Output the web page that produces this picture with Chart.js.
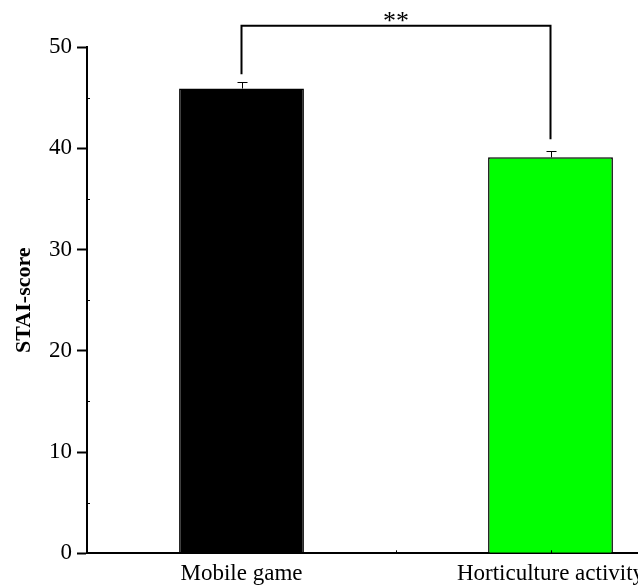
<!DOCTYPE html>
<html>
<head>
<meta charset="utf-8">
<script src="https://cdn.jsdelivr.net/npm/chart.js@4.4.1/dist/chart.umd.min.js"></script>
<style>
    html, body { margin: 0; padding: 0; background: #fff; overflow: hidden; }
    #wrap { width: 638px; height: 585px; overflow: hidden; }
    canvas { display: block; }
</style>
</head>
<body>
<div id="wrap"><canvas id="chart" width="710" height="585"></canvas></div>
<script>
    const groups = ["Mobile game", "Horticulture activity"];
    const scores = [45.9, 39.1];
    const errors = [0.6, 0.6];
    const barColors = ["#000000", "#00ff00"];
    const yTicks = [0, 10, 20, 30, 40, 50];
    const yMinorTicks = [5, 15, 25, 35, 45];
    const sigLabel = "**";
    const sigBracket = [47.3, 52.1, 40.9]; // left foot, top, right foot (data units)

    const FONT = "'Liberation Serif', 'Times New Roman', serif";

    const extras = {
        id: "extras",
        afterDraw(chart) {
            const { ctx, scales: { x, y } } = chart;
            ctx.save();
            ctx.strokeStyle = "#000";

            // minor ticks, inward
            ctx.lineWidth = 1;
            yMinorTicks.forEach((v) => {
                const py = Math.round(y.getPixelForValue(v)) + 0.5;
                ctx.beginPath(); ctx.moveTo(x.left, py); ctx.lineTo(x.left + 3, py); ctx.stroke();
            });
            [0, 0.5, 1].forEach((i) => {
                const px = Math.round(x.getPixelForValue(i)) + 0.5;
                ctx.beginPath(); ctx.moveTo(px, y.bottom); ctx.lineTo(px, y.bottom - 3); ctx.stroke();
            });

            // error bars
            ctx.lineWidth = 1;
            scores.forEach((v, i) => {
                const px = Math.round(x.getPixelForValue(i)) + 0.5;
                const top = Math.round(y.getPixelForValue(v + errors[i])) + 0.5;
                ctx.beginPath();
                ctx.moveTo(px, y.getPixelForValue(v)); ctx.lineTo(px, top);
                ctx.moveTo(px - 5, top); ctx.lineTo(px + 5, top);
                ctx.stroke();
            });

            // significance bracket
            const x1 = x.getPixelForValue(0), x2 = x.getPixelForValue(1);
            const yTop = y.getPixelForValue(sigBracket[1]);
            ctx.lineWidth = 2;
            ctx.beginPath();
            ctx.moveTo(x1, y.getPixelForValue(sigBracket[0]));
            ctx.lineTo(x1, yTop);
            ctx.lineTo(x2, yTop);
            ctx.lineTo(x2, y.getPixelForValue(sigBracket[2]));
            ctx.stroke();

            ctx.fillStyle = "#000";
            ctx.font = `26px ${FONT}`;
            ctx.textAlign = "center";
            ctx.textBaseline = "alphabetic";
            ctx.fillText(sigLabel, (x1 + x2) / 2, yTop + 3);
            ctx.restore();
        },
    };

    new Chart(document.getElementById("chart"), {
        type: "bar",
        data: {
            labels: groups,
            datasets: [{
                data: scores,
                backgroundColor: barColors,
                borderColor: "#000",
                borderWidth: 1.5,
                categoryPercentage: 1,
                barPercentage: 0.404,
            }],
        },
        options: {
            responsive: false,
            animation: false,
            layout: { padding: { top: 47, right: 5, bottom: 0, left: 0 } },
            plugins: { legend: { display: false }, tooltip: { enabled: false } },
            scales: {
                x: {
                    offset: true,
                    grid: { display: false, drawTicks: false },
                    border: { display: true, color: "#000", width: 2 },
                    ticks: { color: "#000", font: { family: FONT, size: 23 }, padding: 7, maxRotation: 0, autoSkip: false },
                    afterFit: (s) => { s.height = 31.7; },
                },
                y: {
                    min: 0,
                    max: 50,
                    afterBuildTicks: (s) => { s.ticks = yTicks.map((v) => ({ value: v })); },
                    grid: { display: true, drawOnChartArea: false, drawTicks: true, tickLength: 10, tickColor: "#000", tickWidth: 2 },
                    border: { display: true, color: "#000", width: 2 },
                    ticks: { color: "#000", font: { family: FONT, size: 23 }, padding: 5 },
                    title: { display: true, text: "STAI-score", color: "#000", font: { family: FONT, size: 22, weight: "bold" }, padding: { top: 11, bottom: 0 } },
                    afterFit: (s) => { s.width = 87; },
                },
            },
        },
        plugins: [extras],
    });
</script>
</body>
</html>
